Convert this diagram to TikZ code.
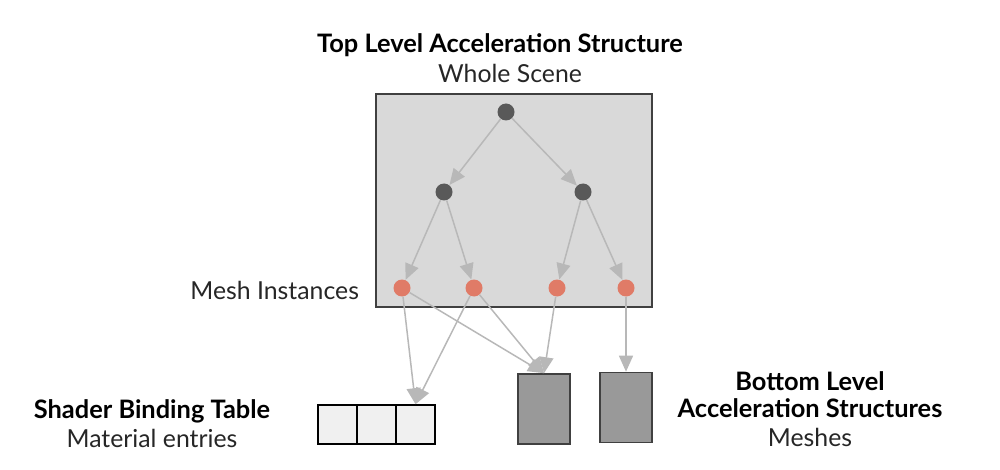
\documentclass[tikz,border=0pt]{standalone}
\usepackage{fontspec}
\setmainfont{Lato}
\usetikzlibrary{arrows.meta}

\begin{document}
\begin{tikzpicture}[x=0.5pt, y=-0.5pt,
  every node/.style = {font=\fontsize{12.4}{14}\selectfont, text=black!85},
  title/.style = {font=\fontsize{12.7}{14}\selectfont\bfseries, text=black},
  inner/.style = {circle, fill=black!65, minimum size=8.5pt, inner sep=0pt},
  leaf/.style = {circle, fill={rgb,255:red,224;green,123;blue,103}, minimum size=8.5pt, inner sep=0pt},
  cell/.style = {rectangle, draw=black, line width=0.8pt, fill=black!6,
    minimum width=19.5pt, minimum height=19.5pt, inner sep=0pt},
  blas/.style = {rectangle, draw=black!75, line width=0.8pt, fill=black!40,
    minimum width=26pt, minimum height=35pt, inner sep=0pt},
  link/.style = {draw=black!28, line width=0.75pt,
    -{Triangle[length=8pt, width=7pt]}}]
  \useasboundingbox (0,0) rectangle (1000,470);

  \node[title] (tlastitle) at (500,45) {Top Level Acceleration Structure};
  \node (tlassub) at (510,73) {Whole Scene};
  \node[draw=black!75, line width=1pt, fill=black!15, minimum width=138pt,
    minimum height=106.5pt, inner sep=0pt] (tlas) at (514,200.5) {};

  \node[inner] (root) at (506,112) {};
  \node[inner] (midl) at (444,192) {};
  \node[inner] (midr) at (583,192) {};
  \node[leaf] (inst1) at (402,288) {};
  \node[leaf] (inst2) at (474,288) {};
  \node[leaf] (inst3) at (557,288) {};
  \node[leaf] (inst4) at (626,288) {};
  \node[anchor=east] (instlabel) at (366,290) {Mesh Instances};

  \node[cell] (sbt1) at (337.5,424.5) {};
  \node[cell] (sbt2) at (376.5,424.5) {};
  \node[cell] (sbt3) at (415.5,424.5) {};
  \node[title] (sbttitle) at (152,411) {Shader Binding Table};
  \node (sbtsub) at (152,438) {Material entries};

  \node[blas] (mesh1) at (544,409) {};
  \node[blas] (mesh2) at (626,407.5) {};
  \node[title] (blastitle1) at (810,381) {Bottom Level};
  \node[title] (blastitle2) at (810,408) {Acceleration Structures};
  \node (blassub) at (810,437) {Meshes};

  \draw[link] (root) -- (midl);
  \draw[link] (root) -- (midr);
  \draw[link] (midl) -- (inst1);
  \draw[link] (midl) -- (inst2);
  \draw[link] (midr) -- (inst3);
  \draw[link] (midr) -- (inst4);
  \draw[link] (inst1) -- (sbt3.north);
  \draw[link] (inst2) -- (sbt3.north);
  \draw[link] (inst1) -- (mesh1.north);
  \draw[link] (inst2) -- (mesh1.north);
  \draw[link] (inst3) -- (mesh1.north);
  \draw[link] (inst4) -- (mesh2.north);
\end{tikzpicture}
\end{document}
